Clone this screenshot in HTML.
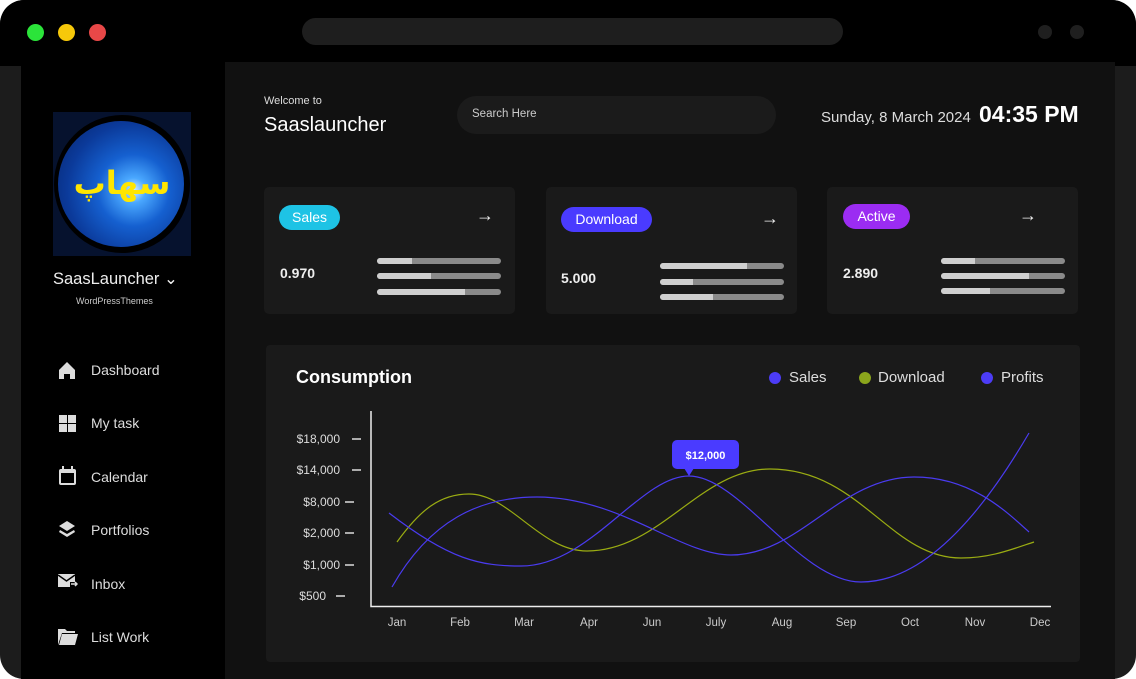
<!DOCTYPE html>
<html><head><meta charset="utf-8"><style>
*{margin:0;padding:0;box-sizing:border-box}
body{width:1136px;height:679px;background:#fff;font-family:"Liberation Sans",sans-serif;overflow:hidden;position:relative}
.a{position:absolute}
.frame{left:0;top:0;width:1136px;height:679px;background:#1c1c1c;border-radius:24px;overflow:hidden}
.top{left:0;top:0;width:1136px;height:66px;background:#000;border-radius:24px 24px 0 0}
.side{left:21px;top:62px;width:204px;height:617px;background:#000}
.main{left:225px;top:62px;width:890px;height:617px;background:#111}
.dot{width:17px;height:17px;border-radius:50%;top:24px}
.card{background:#1a1a1a;border-radius:5px;width:251px;height:127px}
.pill{border-radius:13px;color:#fff;font-size:14px;text-align:center;line-height:25px;height:25px}
.bar{height:6px;width:124px;background:#8a8a8a;border-radius:3px;overflow:hidden}
.bar i{display:block;height:6px;background:#cfcfcf}
.num{color:#eee;font-weight:bold;font-size:14px}
.arr{color:#eee;font-size:18px}
.menu{color:#ddd;font-size:14px;left:91px}
.lab{color:#ddd;font-size:12px;text-align:right;width:70px;left:270px}
.mon{color:#ccc;font-size:11.5px;top:617px;width:40px;text-align:center}
</style></head><body>
<div class="a frame"></div>
<div class="a top"></div>
<div class="a dot" style="left:27px;background:#2be43a"></div>
<div class="a dot" style="left:58px;background:#f6c80a"></div>
<div class="a dot" style="left:89px;background:#e84848"></div>
<div class="a" style="left:302px;top:18px;width:541px;height:27px;border-radius:14px;background:#1e1e1e"></div>
<div class="a" style="left:1038px;top:25px;width:14px;height:14px;border-radius:50%;background:#1f1f1f"></div>
<div class="a" style="left:1070px;top:25px;width:14px;height:14px;border-radius:50%;background:#1f1f1f"></div>
<div class="a side"></div>
<div class="a main"></div>

<!-- logo -->
<div class="a" style="left:53px;top:112px;width:138px;height:144px;background:#06122e;overflow:hidden">
<div class="a" style="left:1px;top:3px;width:136px;height:138px;border-radius:50%;background:#000"></div>
<div class="a" style="left:5px;top:9px;width:126px;height:126px;border-radius:50%;background:radial-gradient(circle at 60% 55%,#d8f0ff 0,#4aa8ff 12%,#1560d0 35%,#0b3a9a 65%,#072266 100%)"></div>
<div class="a" style="left:14px;top:46px;width:110px;text-align:center;color:#ffe600;font-size:32px;font-family:'DejaVu Sans',sans-serif;font-weight:bold;line-height:50px">سهاپ</div>
</div>
<div class="a" style="left:53px;top:269px;color:#eee;font-size:16.5px">SaasLauncher ⌄</div>
<div class="a" style="left:76px;top:296px;color:#ccc;font-size:9px">WordPressThemes</div>

<!-- menu -->
<svg class="a" style="left:58px;top:361px" width="20" height="300" fill="#ddd">
<path d="M1 9 L9 1 L17 9 V18 H12 V13 H6 V18 H1Z"/>
<rect x="1" y="54" width="8" height="8"/><rect x="10" y="54" width="8" height="8"/><rect x="1" y="63" width="8" height="8"/><rect x="10" y="63" width="8" height="8"/>
<rect x="1" y="108" width="17" height="16" rx="2"/><rect x="3" y="112" width="13" height="10" fill="#000"/><rect x="4" y="105" width="2" height="4"/><rect x="13" y="105" width="2" height="4"/>
<path d="M9 160 L17 165 L9 170 L1 165Z"/><path d="M2 169 L9 173 L16 169 L17 171 L9 176 L1 171Z"/>
<path d="M0 213 H17 V221 H12 V226 H0Z"/><path d="M0 214 L8.5 220 L17 214" stroke="#000" stroke-width="1.5" fill="none"/><path d="M13 223 H19 M17 221 L19 223 L17 225" stroke="#ddd" stroke-width="1.5" fill="none"/>
<path d="M0 268 H7 L9 270 H17 V272 H4 L0 284Z"/><path d="M4 273 H20 L17 284 H1Z"/>
</svg>
<div class="a menu" style="top:362px">Dashboard</div>
<div class="a menu" style="top:415px">My task</div>
<div class="a menu" style="top:469px">Calendar</div>
<div class="a menu" style="top:522px">Portfolios</div>
<div class="a menu" style="top:576px">Inbox</div>
<div class="a menu" style="top:629px">List Work</div>

<!-- header -->
<div class="a" style="left:264px;top:95px;color:#ddd;font-size:11px">Welcome to</div>
<div class="a" style="left:264px;top:114px;color:#fff;font-size:20px">Saaslauncher</div>
<div class="a" style="left:457px;top:96px;width:319px;height:38px;border-radius:19px;background:#1b1b1b"></div>
<div class="a" style="left:472px;top:108px;color:#ccc;font-size:11.5px">Search Here</div>
<div class="a" style="left:821px;top:109px;color:#ddd;font-size:15px">Sunday, 8 March 2024</div>
<div class="a" style="left:979px;top:101px;color:#fff;font-size:23px;font-weight:bold">04:35 PM</div>

<!-- cards -->
<div class="a card" style="left:264px;top:187px"></div>
<div class="a card" style="left:546px;top:187px"></div>
<div class="a card" style="left:827px;top:187px"></div>
<div class="a pill" style="left:279px;top:205px;width:61px;background:#1ec3e5">Sales</div>
<div class="a pill" style="left:561px;top:207px;width:91px;background:#4a3bff">Download</div>
<div class="a pill" style="left:843px;top:204px;width:67px;background:#9b2cf2">Active</div>
<div class="a arr" style="left:476px;top:205px">→</div>
<div class="a arr" style="left:761px;top:208px">→</div>
<div class="a arr" style="left:1019px;top:205px">→</div>
<div class="a num" style="left:280px;top:265px">0.970</div>
<div class="a num" style="left:561px;top:270px">5.000</div>
<div class="a num" style="left:843px;top:265px">2.890</div>
<div class="a bar" style="left:377px;top:258px"><i style="width:35px"></i></div>
<div class="a bar" style="left:377px;top:273px"><i style="width:54px"></i></div>
<div class="a bar" style="left:377px;top:289px"><i style="width:88px"></i></div>
<div class="a bar" style="left:660px;top:263px"><i style="width:87px"></i></div>
<div class="a bar" style="left:660px;top:279px"><i style="width:33px"></i></div>
<div class="a bar" style="left:660px;top:294px"><i style="width:53px"></i></div>
<div class="a bar" style="left:941px;top:258px"><i style="width:34px"></i></div>
<div class="a bar" style="left:941px;top:273px"><i style="width:88px"></i></div>
<div class="a bar" style="left:941px;top:288px"><i style="width:49px"></i></div>

<!-- chart panel -->
<div class="a" style="left:266px;top:345px;width:814px;height:317px;background:#1a1a1a;border-radius:4px"></div>
<div class="a" style="left:296px;top:367px;color:#fff;font-size:18px;font-weight:bold">Consumption</div>
<div class="a" style="left:769px;top:372px;width:12px;height:12px;border-radius:50%;background:#4c3cf6"></div>
<div class="a" style="left:789px;top:369px;color:#ddd;font-size:15px">Sales</div>
<div class="a" style="left:859px;top:372px;width:12px;height:12px;border-radius:50%;background:#8ba51c"></div>
<div class="a" style="left:878px;top:369px;color:#ddd;font-size:15px">Download</div>
<div class="a" style="left:981px;top:372px;width:12px;height:12px;border-radius:50%;background:#4c3cf6"></div>
<div class="a" style="left:1001px;top:369px;color:#ddd;font-size:15px">Profits</div>

<div class="a lab" style="top:432px">$18,000</div>
<div class="a lab" style="top:463px">$14,000</div>
<div class="a lab" style="top:495px">$8,000</div>
<div class="a lab" style="top:526px">$2,000</div>
<div class="a lab" style="top:558px">$1,000</div>
<div class="a lab" style="top:589px;width:56px">$500</div>

<div class="a mon" style="left:377px">Jan</div>
<div class="a mon" style="left:440px">Feb</div>
<div class="a mon" style="left:504px">Mar</div>
<div class="a mon" style="left:569px">Apr</div>
<div class="a mon" style="left:632px">Jun</div>
<div class="a mon" style="left:696px">July</div>
<div class="a mon" style="left:762px">Aug</div>
<div class="a mon" style="left:826px">Sep</div>
<div class="a mon" style="left:890px">Oct</div>
<div class="a mon" style="left:955px">Nov</div>
<div class="a mon" style="left:1020px">Dec</div>

<svg class="a" style="left:0;top:0" width="1136" height="679">
<g stroke="#ddd" stroke-width="1.5">
<line x1="352" y1="439" x2="361" y2="439"/><line x1="352" y1="470" x2="361" y2="470"/><line x1="345" y1="502" x2="354" y2="502"/><line x1="345" y1="533" x2="354" y2="533"/><line x1="345" y1="565" x2="354" y2="565"/><line x1="336" y1="596" x2="345" y2="596"/>
</g>
<path d="M371 411 V606.5 H1051" stroke="#eee" stroke-width="1.5" fill="none"/>
<g fill="none" stroke-width="1.2">
<path d="M397 542 C420 510 440 494 469 494 C510 494 540 551 587 551 C660 551 700 469 770 469 C860 469 890 558 961 558 C990 558 1010 550 1034 542" stroke="#9aac12"/>
<path d="M389 513 C450 560 480 566 521 566 C590 566 640 476 689 476 C740 476 800 582 861 582 C930 582 990 500 1029 433" stroke="#4a3bf0"/>
<path d="M392 587 C430 520 480 497 537 497 C620 497 680 555 731 555 C800 555 840 477 914 477 C970 477 1005 510 1029 532" stroke="#4a3bf0"/>
</g>
<rect x="672" y="440" width="67" height="29" rx="5" fill="#4a3bff"/>
<path d="M684 468 L689 476 L694 468Z" fill="#4a3bff"/>
<text x="705.5" y="459" fill="#fff" font-size="11" font-weight="bold" text-anchor="middle" font-family="Liberation Sans, sans-serif">$12,000</text>
</svg>
</body></html>
